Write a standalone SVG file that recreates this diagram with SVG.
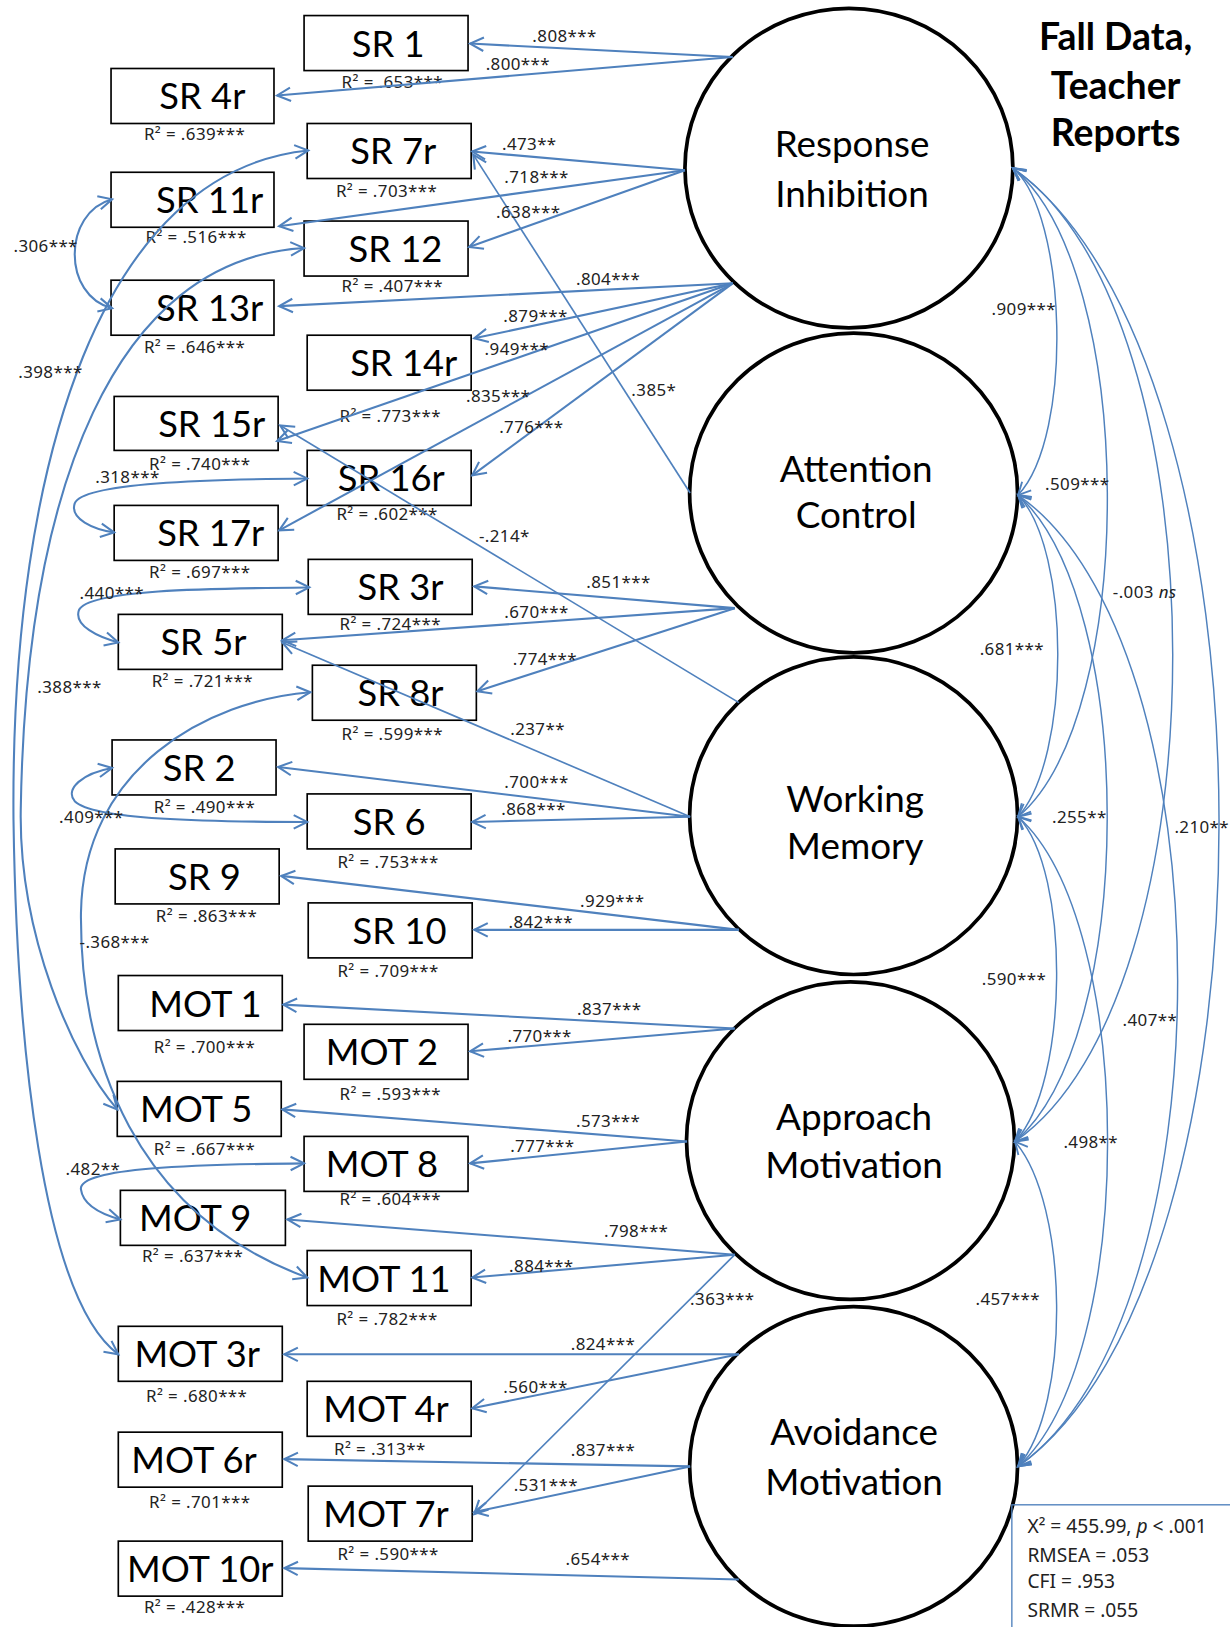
<svg xmlns="http://www.w3.org/2000/svg" width="1230" height="1627" viewBox="0 0 1230 1627">
<style>
.nb rect{fill:#fff;stroke:#000;stroke-width:1.6}
.nb .t{font-family:Lato,'Noto Sans',sans-serif;font-size:35px;text-anchor:middle;fill:#000}
.sm{font-family:'Noto Sans','Liberation Sans',sans-serif;font-size:16.3px;text-anchor:middle;letter-spacing:0.4px;fill:#222}
.lat ellipse{fill:#fff;stroke:#000;stroke-width:3.6}
.lat text{font-family:Lato,'Noto Sans',sans-serif;font-size:35.5px;text-anchor:middle;fill:#000}
.ld{fill:none;stroke:#4F81BD;stroke-width:2;marker-end:url(#ah)}
.lt{fill:none;stroke:#4F81BD;stroke-width:1.6;marker-end:url(#ah)}
.cv{fill:none;stroke:#4F81BD;stroke-width:2;marker-start:url(#ah);marker-end:url(#ah)}
.rc{fill:none;stroke:#4F81BD;stroke-width:1.4;marker-start:url(#ah2);marker-end:url(#ah2)}
.title{font-family:Lato,'Noto Sans',sans-serif;font-size:36px;font-weight:bold;text-anchor:middle;fill:#000}
.fit{font-family:'Noto Sans','Liberation Sans',sans-serif;font-size:18.5px;fill:#222}
</style>
<defs>
<marker id="ah" markerUnits="userSpaceOnUse" markerWidth="24" markerHeight="24" viewBox="-16 -12 20 24" refX="0" refY="0" orient="auto-start-reverse"><path d="M-13,-6.5 L0,0 L-13,6.5" fill="none" stroke="#4F81BD" stroke-width="2"/></marker>
<marker id="ah2" markerUnits="userSpaceOnUse" markerWidth="24" markerHeight="24" viewBox="-16 -12 20 24" refX="0" refY="0" orient="auto-start-reverse"><path d="M-12,-6 L0,0 L-12,6" fill="none" stroke="#4F81BD" stroke-width="1.8"/></marker>
</defs>
<rect x="0" y="0" width="1230" height="1627" fill="#fff"/>
<g transform="scale(1.0378)">
<g id="title"><text class="title" x="1075" y="48">Fall Data,</text><text class="title" x="1075" y="95">Teacher</text><text class="title" x="1075" y="141">Reports</text></g>

<g id="SR1" class="nb"><rect x="293" y="15" width="158" height="53"/><text class="t" x="374" y="54.5">SR 1</text><text class="sm" x="378" y="85">R² = .653***</text></g>
<g id="SR4r" class="nb"><rect x="107" y="66" width="157" height="53"/><text class="t" x="195" y="105.5">SR 4r</text><text class="sm" x="187.5" y="135">R² = .639***</text></g>
<g id="SR7r" class="nb"><rect x="296" y="119" width="158" height="53"/><text class="t" x="379" y="158.5">SR 7r</text><text class="sm" x="372.5" y="189.5">R² = .703***</text></g>
<g id="SR11r" class="nb"><rect x="107" y="166" width="157" height="53"/><text class="t" x="202" y="205.5">SR 11r</text><text class="sm" x="189" y="234.4">R² = .516***</text></g>
<g id="SR12" class="nb"><rect x="293" y="213" width="158" height="53"/><text class="t" x="381" y="252.5">SR 12</text><text class="sm" x="378" y="281">R² = .407***</text></g>
<g id="SR13r" class="nb"><rect x="107" y="270" width="157" height="53"/><text class="t" x="202" y="309.5">SR 13r</text><text class="sm" x="187.5" y="340.4">R² = .646***</text></g>
<g id="SR14r" class="nb"><rect x="296" y="323" width="158" height="53"/><text class="t" x="389" y="362.5">SR 14r</text><text class="sm" x="376" y="406.3">R² = .773***</text></g>
<g id="SR15r" class="nb"><rect x="110" y="382" width="158" height="52"/><text class="t" x="204" y="421">SR 15r</text><text class="sm" x="192.5" y="452.8">R² = .740***</text></g>
<g id="SR16r" class="nb"><rect x="296" y="434" width="158" height="53"/><text class="t" x="377" y="473.5">SR 16r</text><text class="sm" x="373" y="501">R² = .602***</text></g>
<g id="SR17r" class="nb"><rect x="110" y="487" width="158" height="53"/><text class="t" x="203" y="526.5">SR 17r</text><text class="sm" x="192.5" y="557.2">R² = .697***</text></g>
<g id="SR3r" class="nb"><rect x="297" y="539" width="158" height="53"/><text class="t" x="386" y="578.5">SR 3r</text><text class="sm" x="376" y="607">R² = .724***</text></g>
<g id="SR5r" class="nb"><rect x="114" y="592" width="158" height="53"/><text class="t" x="196" y="631.5">SR 5r</text><text class="sm" x="195" y="661.6">R² = .721***</text></g>
<g id="SR8r" class="nb"><rect x="301" y="641" width="158" height="53"/><text class="t" x="386" y="680.5">SR 8r</text><text class="sm" x="378" y="713">R² = .599***</text></g>
<g id="SR2" class="nb"><rect x="108" y="713" width="158" height="53"/><text class="t" x="192" y="752.5">SR 2</text><text class="sm" x="197" y="783.6">R² = .490***</text></g>
<g id="SR6" class="nb"><rect x="296" y="765" width="158" height="53"/><text class="t" x="375" y="804.5">SR 6</text><text class="sm" x="374" y="836.6">R² = .753***</text></g>
<g id="SR9" class="nb"><rect x="111" y="818" width="158" height="53"/><text class="t" x="197" y="857.5">SR 9</text><text class="sm" x="199" y="888">R² = .863***</text></g>
<g id="SR10" class="nb"><rect x="297" y="870" width="158" height="53"/><text class="t" x="385" y="909.5">SR 10</text><text class="sm" x="374" y="941">R² = .709***</text></g>
<g id="MOT1" class="nb"><rect x="114" y="940" width="158" height="53"/><text class="t" x="198" y="979.5">MOT 1</text><text class="sm" x="197" y="1014.8">R² = .700***</text></g>
<g id="MOT2" class="nb"><rect x="293" y="987" width="158" height="53"/><text class="t" x="368" y="1026.5">MOT 2</text><text class="sm" x="376" y="1059.8">R² = .593***</text></g>
<g id="MOT5" class="nb"><rect x="113" y="1042" width="158" height="53"/><text class="t" x="189" y="1081.5">MOT 5</text><text class="sm" x="197" y="1112.8">R² = .667***</text></g>
<g id="MOT8" class="nb"><rect x="293" y="1095" width="158" height="53"/><text class="t" x="368" y="1134.5">MOT 8</text><text class="sm" x="376" y="1161">R² = .604***</text></g>
<g id="MOT9" class="nb"><rect x="116" y="1147" width="159" height="53"/><text class="t" x="188" y="1186.5">MOT 9</text><text class="sm" x="185.6" y="1215.6">R² = .637***</text></g>
<g id="MOT11" class="nb"><rect x="296" y="1205" width="158" height="53"/><text class="t" x="370" y="1244.5">MOT 11</text><text class="sm" x="373" y="1276.6">R² = .782***</text></g>
<g id="MOT3r" class="nb"><rect x="114" y="1278" width="158" height="53"/><text class="t" x="190" y="1317.5">MOT 3r</text><text class="sm" x="189.5" y="1350.5">R² = .680***</text></g>
<g id="MOT4r" class="nb"><rect x="296" y="1331" width="158" height="53"/><text class="t" x="372" y="1370.5">MOT 4r</text><text class="sm" x="366" y="1401.9">R² = .313**</text></g>
<g id="MOT6r" class="nb"><rect x="114" y="1380" width="158" height="53"/><text class="t" x="187" y="1419.5">MOT 6r</text><text class="sm" x="192.5" y="1453.2">R² = .701***</text></g>
<g id="MOT7r" class="nb"><rect x="297" y="1432" width="158" height="53"/><text class="t" x="372" y="1471.5">MOT 7r</text><text class="sm" x="374" y="1503">R² = .590***</text></g>
<g id="MOT10r" class="nb"><rect x="114" y="1485" width="158" height="53"/><text class="t" x="193" y="1524.5">MOT 10r</text><text class="sm" x="187.5" y="1554.4">R² = .428***</text></g>

<g id="ResponseInhibition" class="lat"><ellipse cx="818" cy="162" rx="158" ry="154"/><text x="821" y="151">Response</text><text x="821" y="199">Inhibition</text></g>
<g id="AttentionControl" class="lat"><ellipse cx="822.5" cy="475" rx="158" ry="154"/><text x="825" y="464">Attention</text><text x="825" y="509">Control</text></g>
<g id="WorkingMemory" class="lat"><ellipse cx="822.5" cy="786" rx="158" ry="153"/><text x="824" y="782">Working</text><text x="824" y="828">Memory</text></g>
<g id="ApproachMotivation" class="lat"><ellipse cx="819.5" cy="1099" rx="158" ry="153"/><text x="823" y="1089">Approach</text><text x="823" y="1135">Motivation</text></g>
<g id="AvoidanceMotivation" class="lat"><ellipse cx="822.5" cy="1413" rx="158" ry="154"/><text x="823" y="1392">Avoidance</text><text x="823" y="1441">Motivation</text></g>

<g id="connectors">
<line class="ld" x1="706" y1="55" x2="453" y2="42"/>
<line class="ld" x1="706" y1="55" x2="267" y2="92"/>
<line class="ld" x1="660" y1="164" x2="455" y2="146"/>
<line class="ld" x1="660" y1="164" x2="269" y2="218"/>
<line class="ld" x1="660" y1="164" x2="452" y2="238"/>
<line class="ld" x1="706" y1="273" x2="269" y2="295"/>
<line class="ld" x1="706" y1="273" x2="457" y2="326"/>
<line class="ld" x1="706" y1="273" x2="267" y2="425"/>
<line class="ld" x1="706" y1="273" x2="455" y2="458"/>
<line class="ld" x1="706" y1="273" x2="269" y2="511"/>
<line class="lt" x1="665" y1="475" x2="456" y2="149"/>
<line class="ld" x1="708" y1="586" x2="457" y2="565"/>
<line class="ld" x1="708" y1="586" x2="272" y2="617"/>
<line class="ld" x1="708" y1="586" x2="460" y2="666"/>
<line class="lt" x1="712" y1="677" x2="270" y2="410"/>
<line class="lt" x1="665" y1="787" x2="272" y2="619"/>
<line class="ld" x1="665" y1="787" x2="268" y2="739"/>
<line class="ld" x1="665" y1="787" x2="455" y2="792"/>
<line class="ld" x1="712" y1="896" x2="271" y2="844"/>
<line class="ld" x1="712" y1="896" x2="457" y2="896"/>
<line class="ld" x1="708" y1="991" x2="273" y2="968"/>
<line class="ld" x1="708" y1="991" x2="453" y2="1013"/>
<line class="ld" x1="662" y1="1100" x2="272" y2="1069"/>
<line class="ld" x1="662" y1="1100" x2="453" y2="1121"/>
<line class="ld" x1="708" y1="1209" x2="277" y2="1175"/>
<line class="ld" x1="708" y1="1209" x2="455" y2="1231"/>
<line class="lt" x1="708" y1="1209" x2="457" y2="1459"/>
<line class="ld" x1="712" y1="1305" x2="274" y2="1305"/>
<line class="ld" x1="712" y1="1305" x2="455" y2="1357"/>
<line class="ld" x1="665" y1="1413" x2="274" y2="1406"/>
<line class="ld" x1="665" y1="1413" x2="457" y2="1457"/>
<line class="ld" x1="712" y1="1522" x2="274" y2="1511"/>

<path class="cv" d="M108,192 C60,205 60,285 108,297"/>
<path class="cv" d="M297,145 C100,165 10,440 13,790 C16,1000 40,1250 114,1305"/>
<path class="cv" d="M293,239 C110,250 25,470 20,780 C18,900 70,1020 113,1069"/>
<path class="cv" d="M296,461 C200,462 80,465 72,485 C67,500 90,510 110,513"/>
<path class="cv" d="M298,566 C200,567 85,568 76,588 C71,603 95,614 114,619"/>
<path class="cv" d="M108,740 C80,745 62,760 72,772 C90,790 200,792 296,792"/>
<path class="cv" d="M299,667 C200,675 80,740 78,880 C77,1020 130,1170 296,1231"/>
<path class="cv" d="M293,1121 C190,1122 75,1125 78,1146 C80,1162 98,1170 116,1175"/>

<path class="rc" d="M976,162 C1028,205 1035,420 981,477"/>
<path class="rc" d="M981,477 C1032,530 1032,730 981,787"/>
<path class="rc" d="M981,787 C1032,840 1030,1045 978,1100"/>
<path class="rc" d="M978,1100 C1030,1160 1032,1355 981,1413"/>
<path class="rc" d="M976,162 C1096,260 1097,690 981,787"/>
<path class="rc" d="M981,477 C1096,580 1096,1000 978,1100"/>
<path class="rc" d="M981,787 C1096,890 1096,1310 981,1413"/>
<path class="rc" d="M976,162 C1181,300 1181,960 978,1100"/>
<path class="rc" d="M981,477 C1186,620 1186,1270 981,1413"/>
<path class="rc" d="M976,162 C1240,350 1240,1230 981,1413"/>

<g class="sm">
<text x="544" y="40">.808***</text>
<text x="499" y="67.4">.800***</text>
<text x="510" y="144.5">.473**</text>
<text x="517" y="176.6">.718***</text>
<text x="509" y="210.3">.638***</text>
<text x="586" y="274.6">.804***</text>
<text x="516" y="310">.879***</text>
<text x="498" y="342">.949***</text>
<text x="480" y="387">.835***</text>
<text x="512" y="417.5">.776***</text>
<text x="630" y="382">.385*</text>
<text x="486" y="521.9">-.214*</text>
<text x="596" y="566.5">.851***</text>
<text x="517" y="595.7">.670***</text>
<text x="525" y="640.7">.774***</text>
<text x="518" y="708">.237**</text>
<text x="517" y="759.5">.700***</text>
<text x="514" y="785">.868***</text>
<text x="590" y="873.5">.929***</text>
<text x="521" y="894.4">.842***</text>
<text x="587" y="977.9">.837***</text>
<text x="520" y="1003.6">.770***</text>
<text x="586" y="1085.5">.573***</text>
<text x="522.6" y="1109.6">.777***</text>
<text x="613" y="1191.5">.798***</text>
<text x="521.6" y="1225.2">.884***</text>
<text x="696" y="1257.4">.363***</text>
<text x="581" y="1300.6">.824***</text>
<text x="516" y="1342.4">.560***</text>
<text x="581" y="1403.4">.837***</text>
<text x="526" y="1437">.531***</text>
<text x="576" y="1507.8">.654***</text>
<text x="44" y="242.5">.306***</text>
<text x="48.6" y="364.5">.398***</text>
<text x="122.8" y="465.6">.318***</text>
<text x="107.7" y="577.4">.440***</text>
<text x="67" y="668">.388***</text>
<text x="88" y="793">.409***</text>
<text x="110.5" y="913.6">-.368***</text>
<text x="89.5" y="1132">.482**</text>
<text x="986.5" y="303.5">.909***</text>
<text x="1038" y="472">.509***</text>
<text x="1103" y="576.4">-.003 <tspan font-style="italic">ns</tspan></text>
<text x="975" y="631">.681***</text>
<text x="1040" y="793">.255**</text>
<text x="1158" y="802.8">.210**</text>
<text x="977" y="949">.590***</text>
<text x="1108" y="989">.407**</text>
<text x="1051" y="1106.3">.498**</text>
<text x="971" y="1257.4">.457***</text>
</g>
</g>

<g id="fitstats">
<rect x="975" y="1450" width="240" height="140" fill="none" stroke="#4F81BD" stroke-width="1.3"/>
<text class="fit" x="990" y="1477">X² = 455.99, <tspan font-style="italic">p</tspan> &lt; .001</text>
<text class="fit" x="990" y="1505">RMSEA = .053</text>
<text class="fit" x="990" y="1530">CFI = .953</text>
<text class="fit" x="990" y="1558">SRMR = .055</text>
</g>
</g>
</svg>
